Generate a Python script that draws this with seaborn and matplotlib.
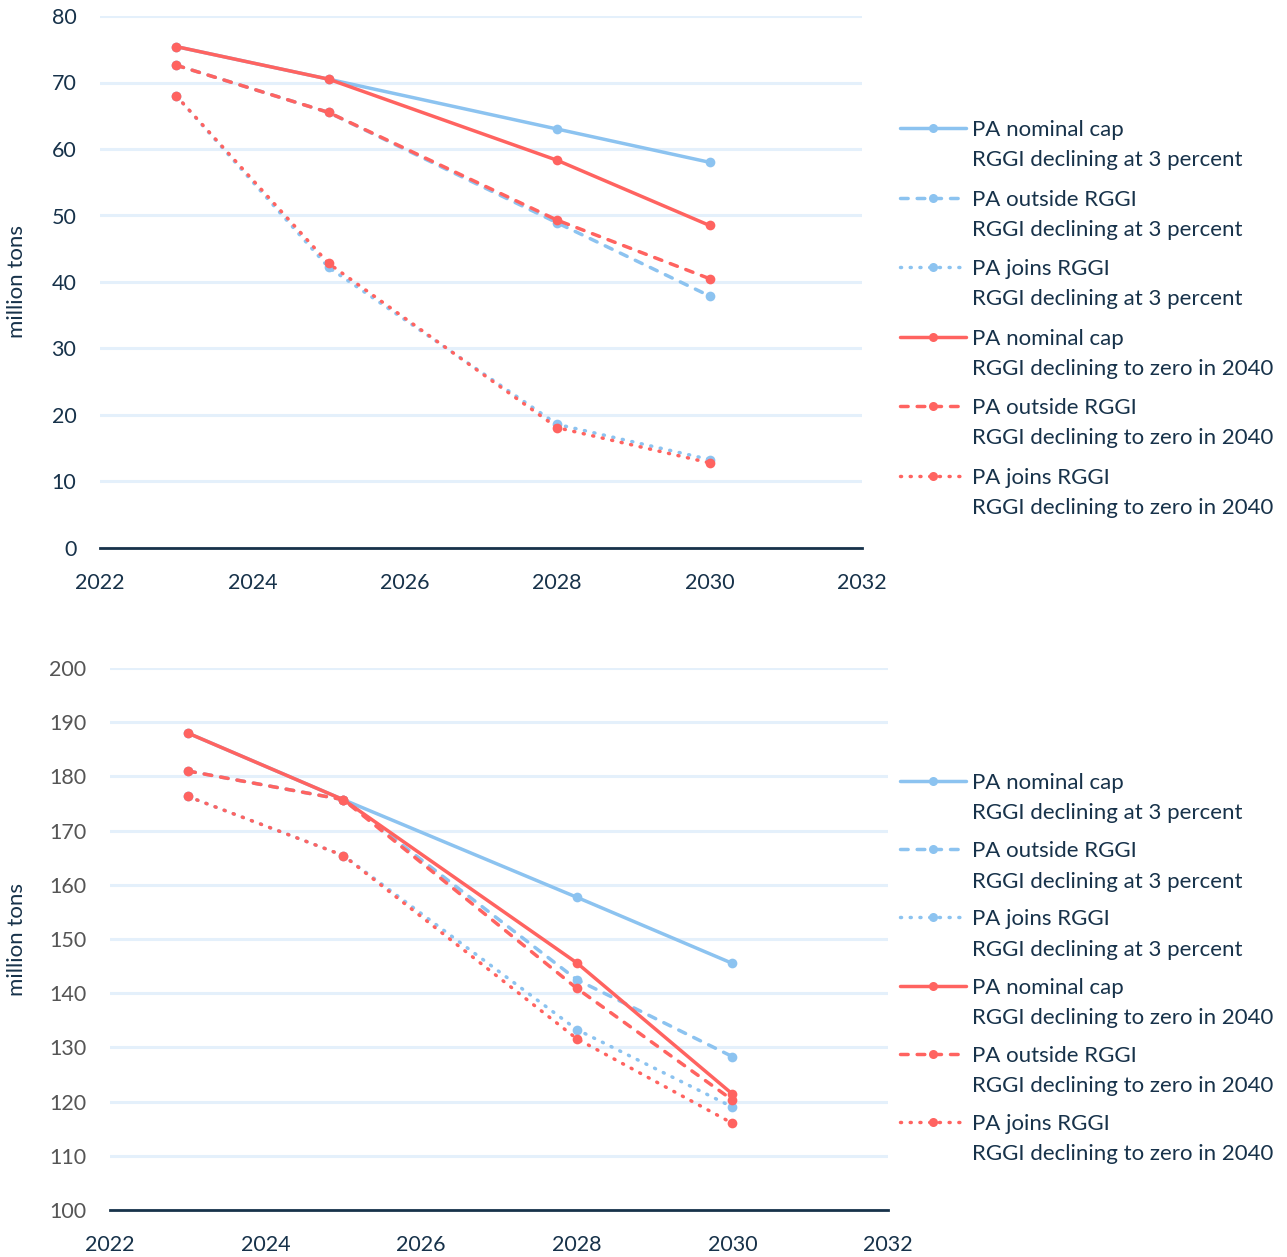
import numpy as np
import pandas as pd
import seaborn as sns
import matplotlib.pyplot as plt
from matplotlib.lines import Line2D
from matplotlib.legend_handler import HandlerLine2D

# Data
years = [2023, 2025, 2028, 2030]

# top panel (million tons)
top_nominal_3pct = [75.4, 70.5, 63.0, 58.0]
top_outside_3pct = [72.6, 65.5, 48.9, 37.9]
top_joins_3pct = [68.0, 42.2, 18.6, 13.3]
top_nominal_zero = [75.4, 70.5, 58.3, 48.5]
top_outside_zero = [72.6, 65.5, 49.3, 40.5]
top_joins_zero = [68.0, 42.8, 18.1, 12.8]

# bottom panel (million tons)
bot_nominal_3pct = [188.0, 175.7, 157.7, 145.5]
bot_outside_3pct = [181.0, 175.7, 142.5, 128.3]
bot_joins_3pct = [176.3, 165.4, 133.3, 119.0]
bot_nominal_zero = [188.0, 175.7, 145.6, 121.4]
bot_outside_zero = [181.0, 175.7, 140.9, 120.3]
bot_joins_zero = [176.3, 165.4, 131.6, 116.0]

pa_labels = ["PA nominal cap", "PA outside RGGI", "PA joins RGGI"]
rggi_labels = ["RGGI declining at 3 percent", "RGGI declining to zero in 2040"]

BLUE = "#8cc3f0"
RED = "#ff6360"
NAVY = "#17324a"
GRID = "#e4f0fb"

styles = {
    "PA nominal cap": "-",
    "PA outside RGGI": (0, (2.2, 2.6)),
    "PA joins RGGI": (0, (0.3, 2.5)),
}


class FirstLineHandler(HandlerLine2D):
    # moves the legend line up so it sits next to the first text line
    def __init__(self, shift, **kw):
        super().__init__(**kw)
        self.shift = shift

    def create_artists(self, *args, **kwargs):
        artists = super().create_artists(*args, **kwargs)
        for a in artists:
            a.set_ydata(np.asarray(a.get_ydata()) + self.shift)
        return artists


sns.set_theme(style="white")
plt.rcParams["font.family"] = ["Lato", "DejaVu Sans"]

fig = plt.figure(figsize=(12.87, 12.57), dpi=100)
ax1 = fig.add_axes([100 / 1287, 1 - 548 / 1257, 762 / 1287, 532 / 1257])
ax2 = fig.add_axes([110 / 1287, 1 - 1210 / 1257, 778 / 1287, 542 / 1257])

panels = [
    (ax1, [top_nominal_3pct, top_outside_3pct, top_joins_3pct],
     [top_nominal_zero, top_outside_zero, top_joins_zero], (0, 80), NAVY, 27 - 100),
    (ax2, [bot_nominal_3pct, bot_outside_3pct, bot_joins_3pct],
     [bot_nominal_zero, bot_outside_zero, bot_joins_zero], (100, 200), "#555555", 27 - 110),
]

for ax, blue_series, red_series, ylim, ytick_color, lab_x in panels:
    for color, series in [(BLUE, blue_series), (RED, red_series)]:
        for label, vals in zip(pa_labels, series):
            df = pd.DataFrame({"year": years, "tons": vals})
            sns.lineplot(data=df, x="year", y="tons", ax=ax, color=color,
                         linestyle=styles[label], linewidth=2.5, marker="o",
                         markersize=7, markeredgewidth=0, legend=False,
                         dash_capstyle="round", zorder=3)
    ax.set_xlim(2022, 2032)
    ax.set_ylim(*ylim)
    ax.set_xticks(range(2022, 2033, 2))
    ax.set_yticks(np.arange(ylim[0], ylim[1] + 1, 10))
    ax.grid(axis="y", color=GRID, linewidth=2.2)
    ax.set_axisbelow(True)
    for s in ["top", "right", "left"]:
        ax.spines[s].set_visible(False)
    ax.spines["bottom"].set_color(NAVY)
    ax.spines["bottom"].set_linewidth(2.0)
    ax.spines["bottom"].set_zorder(4)
    ax.tick_params(axis="x", length=0, pad=18, labelsize=15.5, labelcolor=NAVY)
    ax.tick_params(axis="y", length=0, pad=17, labelsize=15.5, labelcolor=ytick_color)
    ax.set_xlabel("")
    ax.set_ylabel("million tons", fontsize=16, color=NAVY)
    ax.yaxis.set_label_coords(lab_x / ax.bbox.width, 0.5)

# legends with the marker line next to the first line of each label
handles, labels = [], []
for color, rggi in [(BLUE, rggi_labels[0]), (RED, rggi_labels[1])]:
    for pa in pa_labels:
        handles.append(Line2D([], [], color=color, linestyle=styles[pa], linewidth=2.5,
                              marker="o", markersize=6.5, markeredgewidth=0,
                              dash_capstyle="round"))
        labels.append(pa + "\n" + rggi)

for ypos, lspace in [(1 - 120 / 1257, 0.86), (1 - 773 / 1257, 0.80)]:
    leg = fig.legend(handles, labels, loc="upper left", bbox_to_anchor=(900 / 1287, ypos),
                     frameon=False, fontsize=16, labelcolor=NAVY, handlelength=2.95,
                     handletextpad=0.3, labelspacing=lspace, borderpad=0, borderaxespad=0,
                     handler_map={Line2D: FirstLineHandler(12.5)})
    for t in leg.get_texts():
        t.set_linespacing(1.65)

plt.savefig("out.png", dpi=100)
